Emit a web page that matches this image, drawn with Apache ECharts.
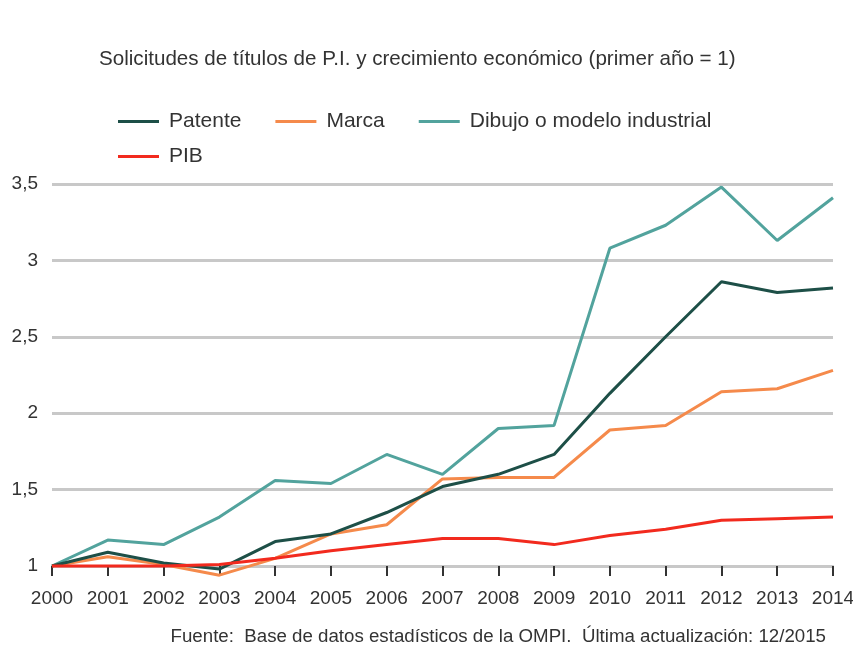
<!DOCTYPE html>
<html><head><meta charset="utf-8">
<script src="https://cdn.jsdelivr.net/npm/echarts@6/dist/echarts.min.js"></script>
<style>html,body{margin:0;padding:0;background:#fff}#c{width:853px;height:660px}</style>
</head><body><div id="c"></div>
<script>
const years = ['2000','2001','2002','2003','2004','2005','2006','2007','2008','2009','2010','2011','2012','2013','2014'];
const patente = [1, 1.09, 1.02, 0.98, 1.16, 1.21, 1.35, 1.52, 1.60, 1.73, 2.13, 2.50, 2.86, 2.79, 2.82];
const marca = [1, 1.06, 1.01, 0.94, 1.05, 1.21, 1.27, 1.57, 1.58, 1.58, 1.89, 1.92, 2.14, 2.16, 2.28];
const dibujo = [1, 1.17, 1.14, 1.32, 1.56, 1.54, 1.73, 1.60, 1.90, 1.92, 3.08, 3.23, 3.48, 3.13, 3.41];
const pib = [1, 1.00, 1.00, 1.01, 1.05, 1.10, 1.14, 1.18, 1.18, 1.14, 1.20, 1.24, 1.30, 1.31, 1.32];
const seriesNames = ['Patente', 'Marca', 'Dibujo o modelo industrial', 'PIB'];
const colors = ['#1d4f47', '#f58a4b', '#52a39d', '#f22a1e'];
const titleText = 'Solicitudes de títulos de P.I. y crecimiento económico (primer año = 1)';
const sourceText = 'Fuente:  Base de datos estadísticos de la OMPI.  Última actualización: 12/2015';

const font = '"Liberation Sans", Arial, sans-serif';
const chart = echarts.init(document.getElementById('c'));
const values = [patente, marca, dibujo, pib];
chart.setOption({
  animation: false,
  color: colors,
  title: [
    {text: titleText, left: 94, top: 44, textStyle: {fontFamily: font, fontSize: 20.6, fontWeight: 'normal', color: '#333'}},
    {text: sourceText, right: 22, top: 622, textStyle: {fontFamily: font, fontSize: 18.7, fontWeight: 'normal', color: '#333'}}
  ],
  legend: [
    {data: seriesNames.slice(0, 3), left: 113, top: 106, itemWidth: 41, itemHeight: 3, itemGap: 34, icon: 'rect',
     textStyle: {fontFamily: font, fontSize: 21, color: '#333', padding: [0, 0, 0, 5]}},
    {data: seriesNames.slice(3), left: 113, top: 141, itemWidth: 41, itemHeight: 3, icon: 'rect',
     textStyle: {fontFamily: font, fontSize: 21, color: '#333', padding: [0, 0, 0, 5]}}
  ],
  grid: {left: 52, right: 20, top: 184, bottom: 94, containLabel: false, outerBoundsMode: 'none'},
  xAxis: {
    type: 'category', data: years, boundaryGap: false,
    axisLine: {show: true, lineStyle: {color: '#c8c8c8', width: 2}},
    axisTick: {show: true, length: 10, interval: 0, lineStyle: {color: '#333', width: 2}},
    axisLabel: {fontFamily: font, fontSize: 19, color: '#333', margin: 23, interval: 0, hideOverlap: false},
    splitLine: {show: false}
  },
  yAxis: {
    type: 'value', min: 1, max: 3.5, interval: 0.5,
    axisLine: {show: false}, axisTick: {show: false},
    axisLabel: {fontFamily: font, fontSize: 19, color: '#333', margin: 14,
      formatter: v => String(v).replace('.', ',')},
    splitLine: {lineStyle: {color: '#c8c8c8', width: 3}}
  },
  series: seriesNames.map((n, i) => ({
    name: n, type: 'line', data: values[i], symbol: 'none', clip: false,
    lineStyle: {width: 3, color: colors[i]}, z: i === 3 ? 5 : 4 - i + 1
  }))
});
</script></body></html>
